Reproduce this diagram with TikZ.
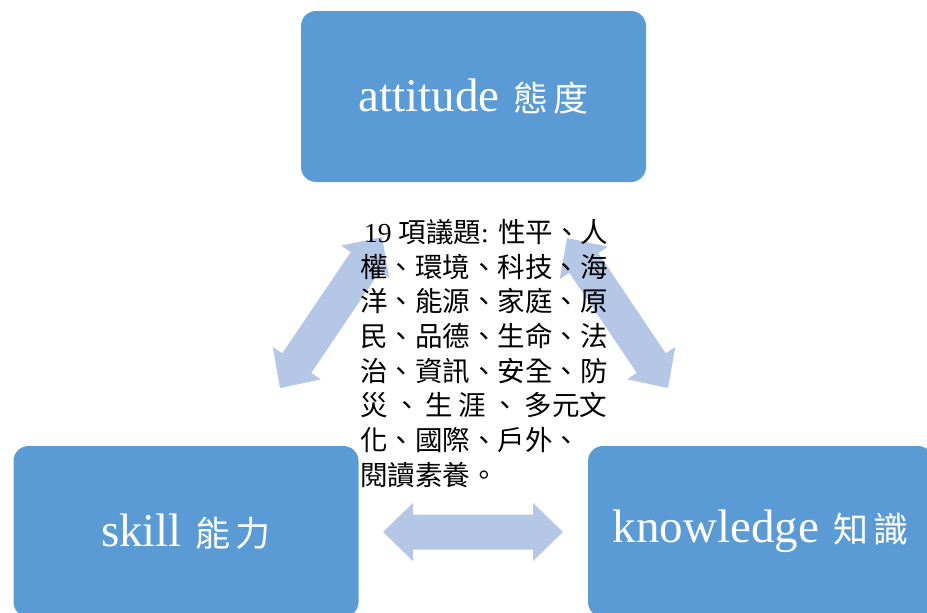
\documentclass[tikz,border=0pt]{standalone}
\usepackage{fontspec}
\setmainfont{Liberation Serif}
\newfontfamily\cjk{Noto Sans CJK TC}
\usepackage{tikz}
\usetikzlibrary{calc}

\definecolor{boxblue}{HTML}{5B9BD5}
\definecolor{arrowblue}{HTML}{B4C7E7}

% block arrow with two heads between two named points
\newcommand{\dblarrow}[2]{%
\fill[arrowfill] (#1) -- ($(#1)!30pt!(#2)!29pt!90:(#2)$) -- ($(#1)!30pt!(#2)!17.5pt!90:(#2)$)
  -- ($(#2)!30pt!(#1)!17.5pt!-90:(#1)$) -- ($(#2)!30pt!(#1)!29pt!-90:(#1)$) -- (#2)
  -- ($(#2)!30pt!(#1)!29pt!90:(#1)$) -- ($(#2)!30pt!(#1)!17.5pt!90:(#1)$)
  -- ($(#1)!30pt!(#2)!17.5pt!-90:(#2)$) -- ($(#1)!30pt!(#2)!29pt!-90:(#2)$) -- cycle;}

\begin{document}
\begin{tikzpicture}[x=1pt, y=-1pt,
  box/.style={rectangle, rounded corners=15pt, fill=boxblue, text=white,
    minimum width=345pt, minimum height=171pt, inner sep=0pt,
    font=\fontsize{47}{50}\selectfont},
  arrowfill/.style={fill=arrowblue}]
\clip (0,0) rectangle (927,613);

% the three boxes
\node[box] (attitude) at (473.5, 96.5) {attitude\hspace{14pt}{\cjk\fontsize{35}{40}\selectfont 態\hspace{5pt}度}};
\node[box] (skill) at (186, 531.5) {skill\hspace{14pt}{\cjk\fontsize{35}{40}\selectfont 能\hspace{5pt}力}};
\node[box] (knowledge) at (760.5, 531.5) {knowledge\hspace{14pt}{\cjk\fontsize{35}{40}\selectfont 知\hspace{5pt}識}};

% arrow ends
\coordinate (sa1) at (280, 388);
\coordinate (sa2) at (382, 237);
\coordinate (ak1) at (567, 238);
\coordinate (ak2) at (668, 388);
\coordinate (sk1) at (383, 532);
\coordinate (sk2) at (563, 532);

\dblarrow{sa1}{sa2}
\dblarrow{ak1}{ak2}
\dblarrow{sk1}{sk2}

% topics in the middle
\node[anchor=north west, inner sep=0pt, align=left, font=\fontsize{27.5}{34.7}\selectfont] (topics) at (360, 219)
  {\hspace*{4pt}19\hspace{7pt}{\cjk 項議題}: {\cjk 性平、人}\\
   {\cjk 權、環境、科技、海}\\
   {\cjk 洋、能源、家庭、原}\\
   {\cjk 民、品德、生命、法}\\
   {\cjk 治、資訊、安全、防}\\
   {\cjk\makebox[247pt][s]{災 、 生 涯 、 多元文}}\\
   {\cjk 化、國際、戶外、}\\
   {\cjk 閱讀素養。}};
\end{tikzpicture}
\end{document}
